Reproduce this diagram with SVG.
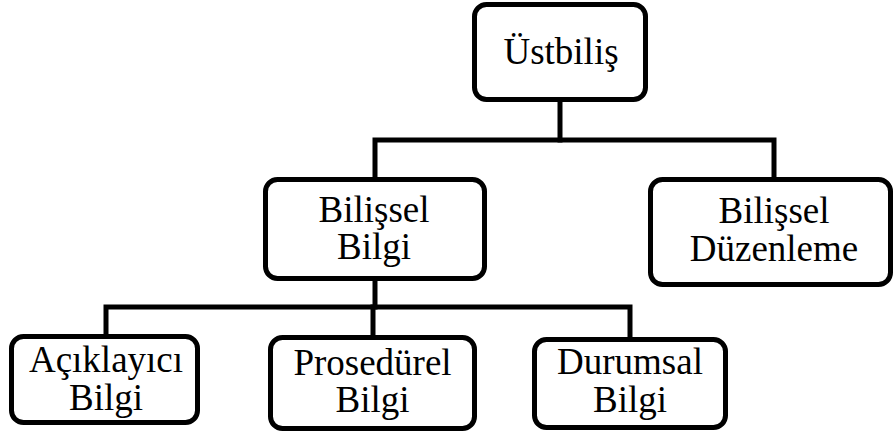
<svg xmlns="http://www.w3.org/2000/svg" width="895" height="434" viewBox="0 0 895 434">
  <style>
    .box { fill: #ffffff; stroke: #000000; stroke-width: 5; }
    .lbl { font-size: 37px; fill: #000000; text-anchor: middle; }
    .conn { fill: none; stroke: #000000; stroke-width: 5; stroke-linecap: square; stroke-linejoin: miter; }
  </style>
  <rect width="895" height="434" fill="#ffffff"/>
  <g id="connectors">
    <path class="conn" d="M560 102 V140"/>
    <path class="conn" d="M375 177 V140 H774 V177"/>
    <path class="conn" d="M375 281 V307"/>
    <path class="conn" d="M106 334 V307 H630 V337"/>
    <path class="conn" d="M373 307 V335"/>
  </g>
  <g font-family="Liberation Serif, DejaVu Serif, serif">
  <g id="ustbilis">
    <rect class="box" x="474.5" y="4.5" width="171" height="95" rx="12"/>
    <text class="lbl" x="561" y="64">Üstbiliş</text>
  </g>
  <g id="bilissel-bilgi">
    <rect class="box" x="265.5" y="179.5" width="219" height="99" rx="12"/>
    <text class="lbl" x="374" y="222">Bilişsel</text>
    <text class="lbl" x="374" y="259">Bilgi</text>
  </g>
  <g id="bilissel-duzenleme">
    <rect class="box" x="650.5" y="179.5" width="240" height="105" rx="12"/>
    <text class="lbl" x="774" y="223">Bilişsel</text>
    <text class="lbl" x="774" y="261">Düzenleme</text>
  </g>
  <g id="aciklayici-bilgi">
    <rect class="box" x="11.5" y="336.5" width="186" height="86" rx="12"/>
    <text class="lbl" x="106" y="372">Açıklayıcı</text>
    <text class="lbl" x="106" y="410">Bilgi</text>
  </g>
  <g id="prosedurel-bilgi">
    <rect class="box" x="270.5" y="337.5" width="204" height="91" rx="12"/>
    <text class="lbl" x="372.5" y="375">Prosedürel</text>
    <text class="lbl" x="372.5" y="412">Bilgi</text>
  </g>
  <g id="durumsal-bilgi">
    <rect class="box" x="534.5" y="339.5" width="191" height="88" rx="12"/>
    <text class="lbl" x="630" y="374">Durumsal</text>
    <text class="lbl" x="630" y="412">Bilgi</text>
  </g>
  </g>
</svg>
